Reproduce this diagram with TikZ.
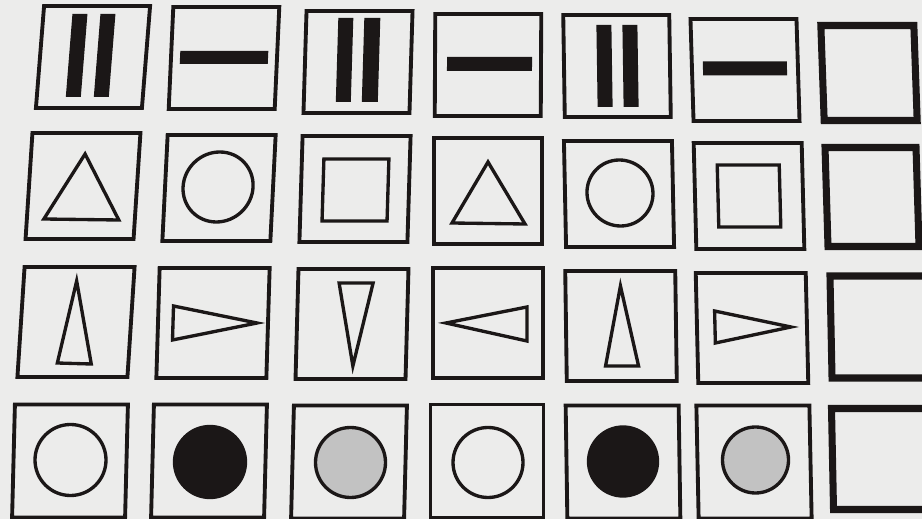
\documentclass[tikz,border=0pt]{standalone}
\usepackage{xcolor}
\usepackage{tikz}
\definecolor{paper}{HTML}{ECECEB}
\definecolor{ink}{HTML}{1B1717}
\definecolor{shade}{HTML}{C2C2C2}

\begin{document}
\begin{tikzpicture}[x=0.02cm, y=-0.02cm,
    cellat/.style n args={3}{shift={(#1,#2)}, xslant=#3},
    frame/.style={draw=ink, line width=2.2pt},
    heavyframe/.style={draw=ink, line width=4pt},
    outline/.style={draw=ink, line width=1.9pt, line join=miter},
    bar/.style={fill=ink}]
    \useasboundingbox (0,0) rectangle (922,519);
    \fill[paper] (0,0) rectangle (922,519);
    \clip (0,0) rectangle (922,519);

    % row 1: bars
    \foreach \cx/\cy/\sl in {93/57/0.08, 224/58/0.045, 358/62/0.03, 488/65/0.005, 617/66/-0.015, 745/70/-0.03}
      \draw[frame, cellat={\cx}{\cy}{\sl}] (-53,-51) rectangle (53,51);
    \draw[heavyframe, cellat={869}{73}{-0.035}] (-46.5,-47.5) rectangle (46.5,47.5);
    \fill[bar, cellat={93}{57}{0.08}] (-24,-43) rectangle (-9,40) (4,-43) rectangle (19,40);
    \fill[bar, cellat={224}{58}{0.045}] (-44,-7) rectangle (44,6);
    \fill[bar, cellat={358}{62}{0.03}] (-21,-44) rectangle (-6,40) (5,-44) rectangle (21,40);
    \fill[bar, cellat={488}{65}{0.005}] (-41,-8) rectangle (44,6);
    \fill[bar, cellat={617}{66}{-0.015}] (-20,-41) rectangle (-5,41) (6,-41) rectangle (21,41);
    \fill[bar, cellat={745}{70}{-0.03}] (-42,-8.5) rectangle (42,5.5);

    % row 2: triangle, circle, square
    \foreach \cx/\cy/\sl in {83/186/0.065, 219/188/0.05, 355/189/0.03, 488/191/0, 619/194/-0.02, 749/196/-0.025}
      \draw[frame, cellat={\cx}{\cy}{\sl}] (-54,-53) rectangle (54,53);
    \draw[heavyframe, cellat={872}{197}{-0.03}] (-45.5,-49.5) rectangle (45.5,49.5);
    \draw[outline, cellat={83}{186}{0.065}] (0,-32) -- (-37,33) -- (38,34) -- cycle;
    \draw[outline, cellat={219}{188}{0.05}] (-1,-1) circle (35);
    \draw[outline, cellat={355}{189}{0.03}] (-32,-30) rectangle (33,32);
    \draw[outline, cellat={488}{191}{0}] (0,-29) -- (-36,32) -- (37,33) -- cycle;
    \draw[outline, cellat={619}{194}{-0.02}] (1,-1) circle (33);
    \draw[outline, cellat={749}{196}{-0.025}] (-31,-31) rectangle (31,31);

    % row 3: turning triangles
    \foreach \cx/\cy/\sl in {76/322/0.065, 213/323/0.03, 352/324/0.027, 488/323/0, 621/326/-0.014, 752/328/-0.023}
      \draw[frame, cellat={\cx}{\cy}{\sl}] (-55,-55) rectangle (55,55);
    \draw[heavyframe, cellat={880}{327}{-0.02}] (-49,-51) rectangle (49,51);
    \draw[outline, cellat={76}{322}{0.065}] (-2,-41) -- (-16,41) -- (18,42) -- cycle;
    \draw[outline, cellat={213}{323}{0.03}] (-40,-17) -- (44,0) -- (-40,17) -- cycle;
    \draw[outline, cellat={352}{324}{0.027}] (-14,-41) -- (20,-41) -- (2,42) -- cycle;
    \draw[outline, cellat={488}{323}{0}] (-42,0) -- (39,-16) -- (39,18) -- cycle;
    \draw[outline, cellat={621}{326}{-0.014}] (0,-40) -- (-16,40) -- (17,40) -- cycle;
    \draw[outline, cellat={752}{328}{-0.023}] (-37,-17) -- (39,-1) -- (-37,15) -- cycle;

    % row 4: circles
    \foreach \cx/\cy/\sl in {70/461/0.025, 209/461/0.025, 349/462/0.025, 487/461/0, 623/462/-0.015, 754/462/-0.02}
      \draw[frame, cellat={\cx}{\cy}{\sl}] (-56.5,-56.5) rectangle (56.5,56.5);
    \draw[heavyframe, cellat={883}{459}{-0.02}] (-50.5,-50.5) rectangle (50.5,50.5);
    \draw[outline] (70.5,460) circle (35.5);
    \draw[outline, fill=ink] (210,462) circle (35.5);
    \draw[outline, fill=shade] (350.5,462.5) circle (35);
    \draw[outline] (488,462.5) circle (35);
    \draw[outline, fill=ink] (623,461.5) circle (34.5);
    \draw[outline, fill=shade] (755.5,460) circle (33);
\end{tikzpicture}
\end{document}
